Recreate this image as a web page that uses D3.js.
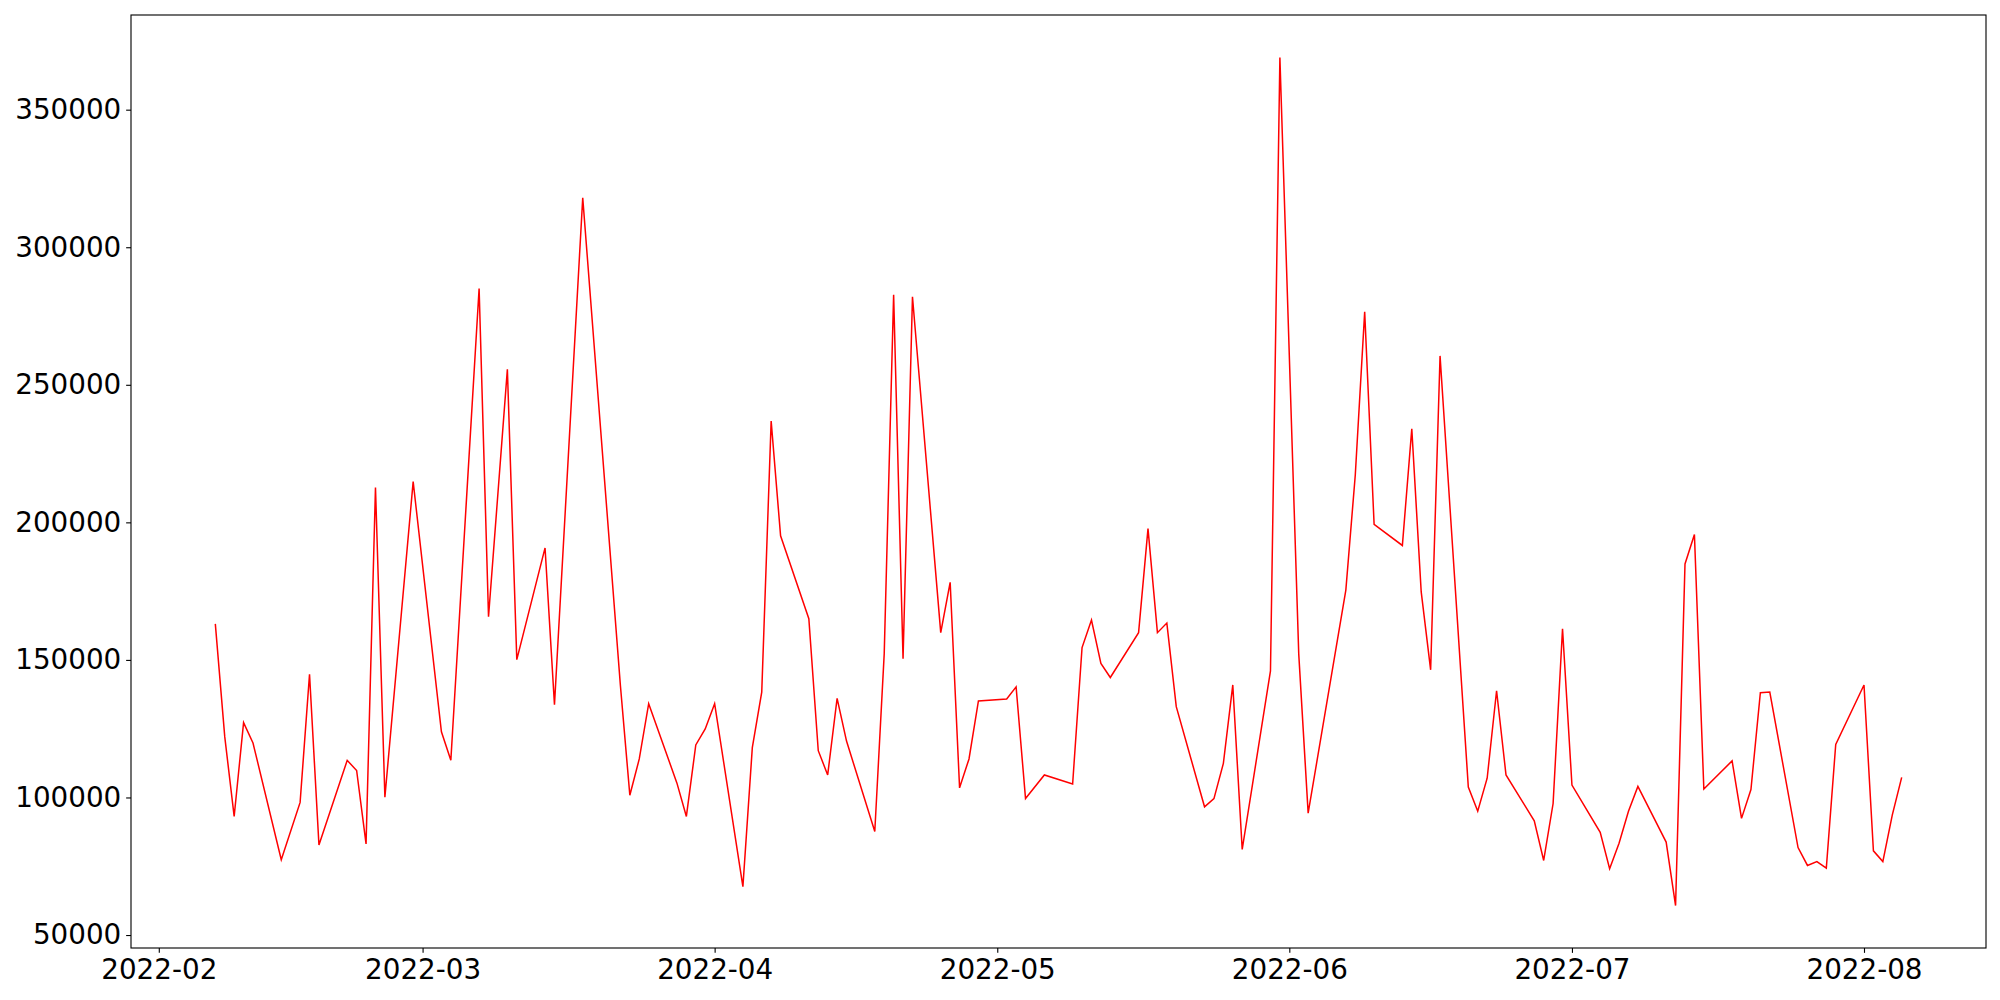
<!DOCTYPE html>
<html>
<head>
<meta charset="utf-8">
<script src="https://cdn.jsdelivr.net/npm/d3@7"></script>
<style>
  html, body { margin: 0; padding: 0; background: #fff; }
  svg { display: block; }
</style>
</head>
<body>
<script>
// days that show a vertex in the picture
const dates = [
  "2022-02-07","2022-02-08","2022-02-09","2022-02-10","2022-02-11",
  "2022-02-14","2022-02-16","2022-02-17","2022-02-18",
  "2022-02-21","2022-02-22","2022-02-23","2022-02-24","2022-02-25",
  "2022-02-28","2022-03-03","2022-03-04",
  "2022-03-07","2022-03-08","2022-03-10","2022-03-11",
  "2022-03-14","2022-03-15","2022-03-18",
  "2022-03-22","2022-03-23","2022-03-24","2022-03-25",
  "2022-03-28","2022-03-29","2022-03-30","2022-03-31","2022-04-01",
  "2022-04-04","2022-04-05","2022-04-06","2022-04-07","2022-04-08",
  "2022-04-11","2022-04-12","2022-04-13","2022-04-14","2022-04-15",
  "2022-04-18","2022-04-19","2022-04-20","2022-04-21","2022-04-22",
  "2022-04-25","2022-04-26","2022-04-27","2022-04-28","2022-04-29",
  "2022-05-02","2022-05-03","2022-05-04","2022-05-06",
  "2022-05-09","2022-05-10","2022-05-11","2022-05-12","2022-05-13",
  "2022-05-16","2022-05-17","2022-05-18","2022-05-19","2022-05-20",
  "2022-05-23","2022-05-24","2022-05-25","2022-05-26","2022-05-27",
  "2022-05-30","2022-05-31","2022-06-02","2022-06-03",
  "2022-06-07","2022-06-08","2022-06-09","2022-06-10",
  "2022-06-13","2022-06-14","2022-06-15","2022-06-16","2022-06-17",
  "2022-06-20","2022-06-21","2022-06-22","2022-06-23","2022-06-24",
  "2022-06-27","2022-06-28","2022-06-29","2022-06-30","2022-07-01",
  "2022-07-04","2022-07-05","2022-07-06","2022-07-07","2022-07-08",
  "2022-07-11","2022-07-12","2022-07-13","2022-07-14","2022-07-15",
  "2022-07-18","2022-07-19","2022-07-20","2022-07-21","2022-07-22",
  "2022-07-25","2022-07-26","2022-07-27","2022-07-28","2022-07-29",
  "2022-08-01","2022-08-02","2022-08-03","2022-08-04","2022-08-05"
]

const values = [
  163100, 122100, 93100, 127200, 119800,
  77400, 98200, 144800, 82700,
  113500, 109800, 83100, 212700, 100100,
  214800, 123900, 113500,
  285000, 165700, 255600, 150100,
  190700, 133700, 318000,
  140600, 100800, 114000, 134100,
  105200, 93100, 119100, 124900, 134100,
  67600, 118100, 138300, 236800, 195100,
  165000, 117000, 108200, 136000, 120500,
  87600, 152200, 282700, 150400, 282000,
  159900, 178200, 103500, 114000, 135100,
  135800, 140200, 99600, 108200,
  104900, 154500, 164500, 148700, 143600,
  159900, 197700, 159900, 163400, 133000,
  96600, 99600, 112400, 140900, 81100,
  146000, 369000, 152200, 94300,
  175400, 217100, 276500, 199300,
  191600, 234000, 174700, 146400, 260500,
  103800, 95000, 107000, 138800, 108200,
  91500, 77100, 97800, 161300, 104500,
  87300, 74100, 83400, 95000, 104000,
  83800, 60700, 184900, 195600, 103100,
  113300, 92400, 102900, 138100, 138300,
  81800, 75300, 76700, 74300, 119300,
  140900, 80600, 76700, 93600, 107300
]

const yTicks = [50000, 100000, 150000, 200000, 250000, 300000, 350000]

const width = 2000
const height = 1000
const margin = {left: 131, right: 14, top: 15, bottom: 52}

const pt = 100 / 72   // matplotlib points -> px at dpi 100
const fontSize = 20 * pt

const parse = d3.utcParse("%Y-%m-%d")
const data = dates.map((d, i) => ({date: parse(d), value: values[i]}))

// matplotlib style 5% margins on both axes
let [x0, x1] = d3.extent(data, d => d.date)
let xpad = (x1 - x0) * 0.05
let [y0, y1] = d3.extent(data, d => d.value)
let ypad = (y1 - y0) * 0.05

const x = d3.scaleUtc()
    .domain([new Date(+x0 - xpad), new Date(+x1 + xpad)])
    .range([margin.left, width - margin.right])

const y = d3.scaleLinear()
    .domain([y0 - ypad, y1 + ypad])
    .range([height - margin.bottom, margin.top])

const svg = d3.select("body")
    .append("svg")
    .attr("width", width)
    .attr("height", height)
    .attr("viewBox", [0, 0, width, height])

svg.append("rect")
    .attr("width", width)
    .attr("height", height)
    .attr("fill", "white")

svg.append("path")
    .datum(data)
    .attr("fill", "none")
    .attr("stroke", "#ff0000")
    .attr("stroke-width", 1.5)
    .attr("stroke-linejoin", "miter")
    .attr("d", d3.line().x(d => x(d.date)).y(d => y(d.value)))

const xAxis = svg.append("g")
    .attr("transform", `translate(0,${height - margin.bottom})`)
    .call(d3.axisBottom(x)
      .ticks(d3.utcMonth.every(1))
      .tickFormat(d3.utcFormat("%Y-%m"))
      .tickSizeInner(3.5 * pt)
      .tickSizeOuter(0)
      .tickPadding(3.5 * pt))

const yAxis = svg.append("g")
    .attr("transform", `translate(${margin.left},0)`)
    .call(d3.axisLeft(y)
      .tickValues(yTicks)
      .tickFormat(d3.format("d"))
      .tickSizeInner(3.5 * pt)
      .tickSizeOuter(0)
      .tickPadding(3.5 * pt))

for (let g of [xAxis, yAxis]) {
  g.select(".domain").remove()
  g.selectAll(".tick line")
      .attr("stroke", "black")
      .attr("stroke-width", 0.8 * pt)
  g.selectAll(".tick text")
      .attr("fill", "black")
      .style("font-family", "'DejaVu Sans', sans-serif")
      .style("font-size", fontSize + "px")
}
xAxis.selectAll(".tick text").attr("dy", "0.76em")

// axes frame
svg.append("rect")
    .attr("x", margin.left)
    .attr("y", margin.top)
    .attr("width", width - margin.left - margin.right)
    .attr("height", height - margin.top - margin.bottom)
    .attr("fill", "none")
    .attr("stroke", "black")
    .attr("stroke-width", 0.8 * pt)
</script>
</body>
</html>
